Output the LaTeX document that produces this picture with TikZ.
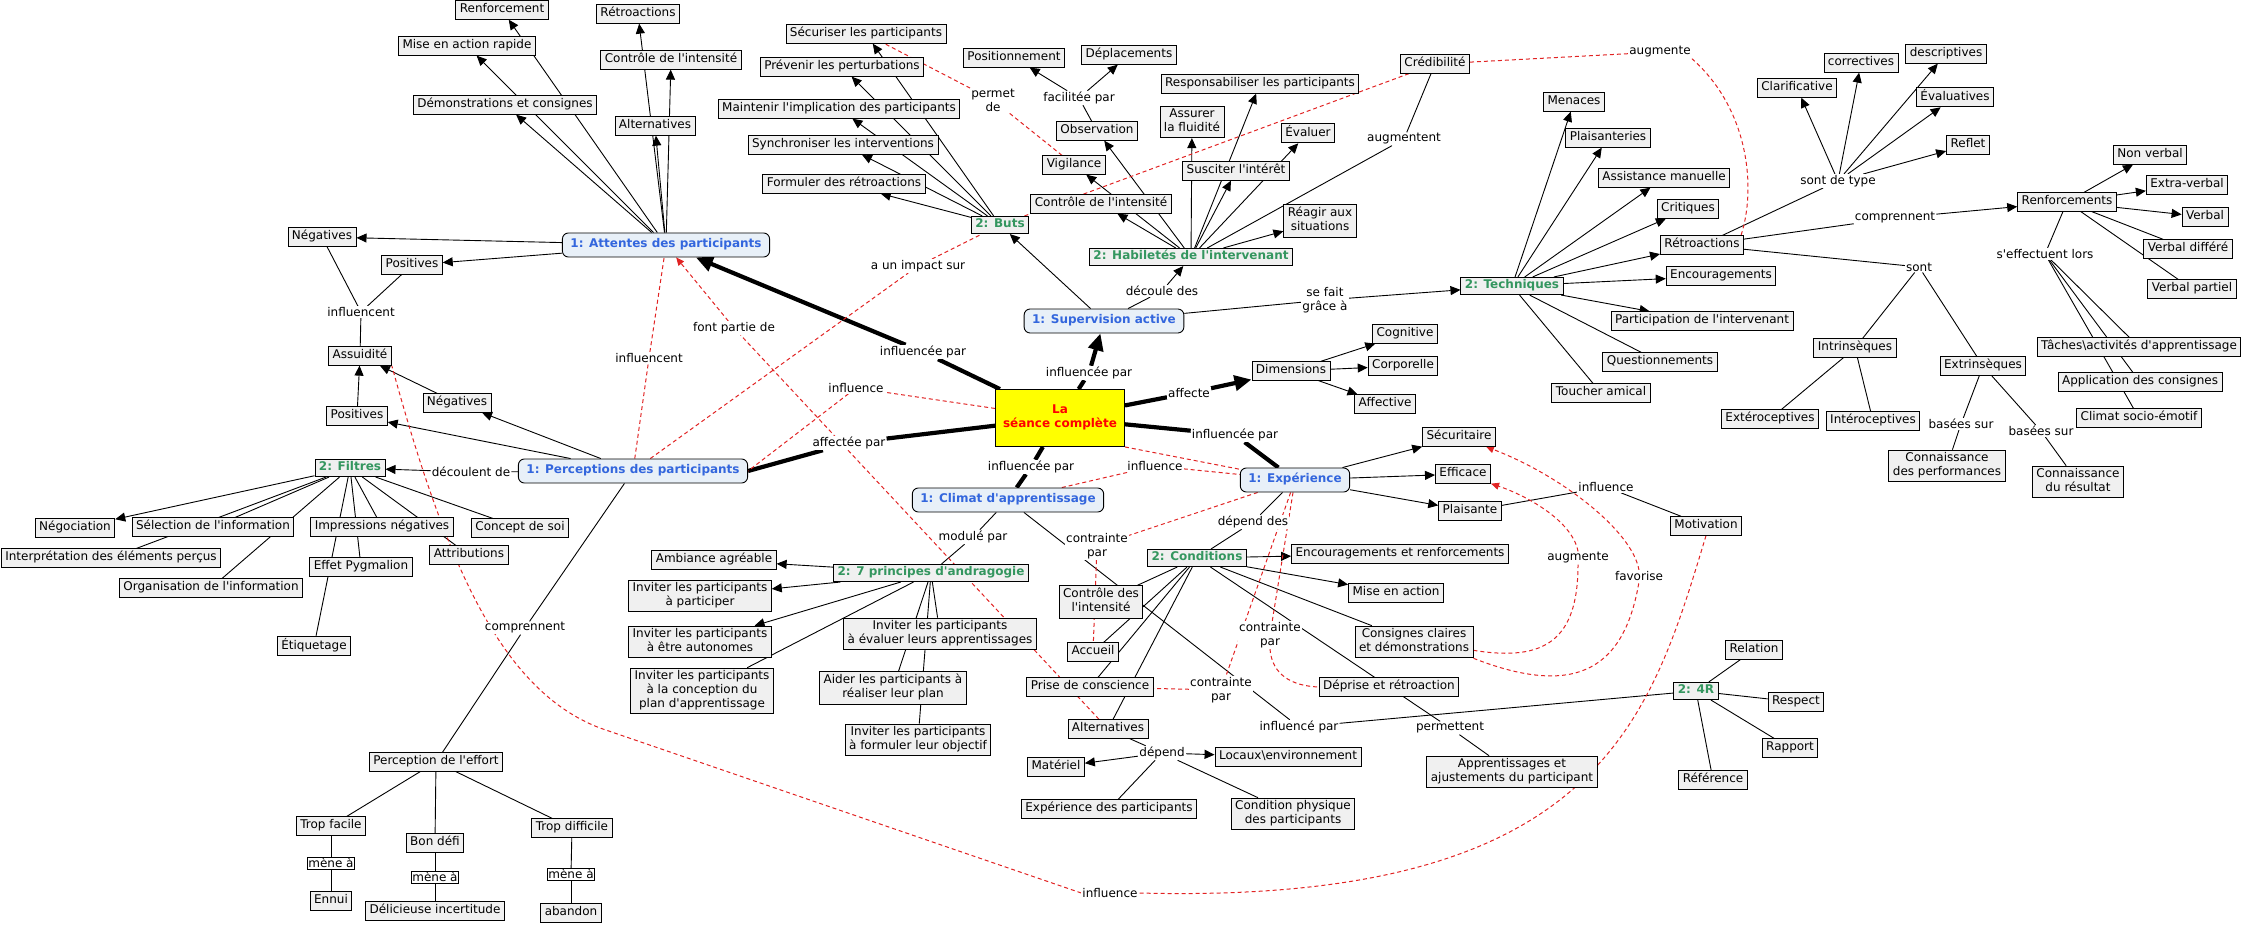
\documentclass[tikz,border=0pt]{standalone}
\usepackage{fontspec}
\newfontfamily\dvs{DejaVu Sans}
\usetikzlibrary{arrows.meta,backgrounds}
\definecolor{cfill}{RGB}{240,240,240}
\definecolor{bfill}{RGB}{232,240,248}
\definecolor{bluet}{RGB}{51,102,221}
\definecolor{greent}{RGB}{52,150,95}
\definecolor{redl}{RGB}{225,35,35}
\definecolor{yel}{RGB}{255,255,0}
\tikzset{
 every node/.style={font=\dvs\fontsize{12}{14}\selectfont},
 cpt/.style={draw, line width=0.9pt, fill=cfill, inner xsep=4pt, inner ysep=2.2pt, align=center, execute at begin node=\strut, execute at end node=\strut},
 lvone/.style={cpt, rounded corners=6pt, fill=bfill, text=bluet, font=\dvs\bfseries\fontsize{12}{14}\selectfont, inner xsep=8pt, inner ysep=5pt},
 lvtwo/.style={cpt, text=greent, font=\dvs\bfseries\fontsize{12}{14}\selectfont, inner ysep=1.6pt},
 seancest/.style={cpt, fill=yel, text=red, font=\dvs\bfseries\fontsize{12}{14}\selectfont, minimum width=129pt, minimum height=57pt},
 lbl/.style={fill=white, inner sep=1pt, align=center},
 mene/.style={draw, line width=0.6pt, fill=white, inner sep=1pt},
 ln/.style={draw, line width=0.9pt},
 ar/.style={ln, -{Triangle[length=10pt,width=9pt]}},
 thk/.style={draw, line width=4.2pt},
 thkar/.style={thk, -{Triangle[length=17pt,width=15pt]}},
 cx/.style={draw=redl, line width=1pt, dash pattern=on 4pt off 3pt},
 cxar/.style={cx, -{Triangle[length=8pt,width=7pt]}},
}
\begin{document}
\begin{tikzpicture}[x=1pt,y=-1pt]
\useasboundingbox (0,0) rectangle (2247,928);
% ---------- top-left
\node[cpt] (renf) at (502,10) {Renforcement};
\node[cpt] (misear) at (467,46) {Mise en action rapide};
\node[cpt] (demo) at (505,105) {Démonstrations et consignes};
\node[cpt] (retroA) at (638,14) {Rétroactions};
\node[cpt] (ctrlA) at (671,60) {Contrôle de l'intensité};
\node[cpt] (altA) at (655,126) {Alternatives};
\node[lvone] (attentes) at (666,245) {1: Attentes des participants};
\node[cpt] (negA) at (322,237) {Négatives};
\node[cpt] (posA) at (412,265) {Positives};
\node[lbl] (lInfl1) at (361,312) {influencent};
\node[cpt] (assu) at (360,356) {Assuidité};
\node[cpt] (negB) at (457,403) {Négatives};
\node[cpt] (posB) at (357,416) {Positives};
\node[lvtwo] (filtres) at (350,468) {2: Filtres};
\node[lbl] (lDecoulent) at (471,472) {découlent de};
\node[lvone] (percep) at (633,471) {1: Perceptions des participants};
\node[cpt] (nego) at (75,528) {Négociation};
\node[cpt] (selec) at (213,527) {Sélection de l'information};
\node[cpt] (impr) at (382,527) {Impressions négatives};
\node[cpt] (concept) at (520,528) {Concept de soi};
\node[cpt] (interp) at (111,558) {Interprétation des éléments perçus};
\node[cpt] (attrib) at (469,555) {Attributions};
\node[cpt] (pygm) at (361,567) {Effet Pygmalion};
\node[cpt] (organ) at (211,588) {Organisation de l'information};
\node[cpt] (etiq) at (314,646) {Étiquetage};
\node[lbl] (lComp1) at (525,628) {comprennent};
\node[cpt] (peff) at (436,762) {Perception de l'effort};
\node[cpt] (tfac) at (331,826) {Trop facile};
\node[cpt] (bdefi) at (435,843) {Bon défi};
\node[cpt] (tdif) at (572,828) {Trop difficile};
\node[mene] (mene1) at (331,863) {mène à};
\node[cpt] (ennui) at (331,901) {Ennui};
\node[mene] (mene2) at (435,877) {mène à};
\node[cpt] (delic) at (435,911) {Délicieuse incertitude};
\node[mene] (mene3) at (571,874) {mène à};
\node[cpt] (aband) at (571,913) {abandon};
% ---------- Buts
\node[cpt] (secur) at (866,34) {Sécuriser les participants};
\node[cpt] (preven) at (842,67) {Prévenir les perturbations};
\node[cpt] (maint) at (839,109) {Maintenir l'implication des participants};
\node[cpt] (synch) at (843,145) {Synchroniser les interventions};
\node[cpt] (formu) at (844,184) {Formuler des rétroactions};
\node[lvtwo] (buts) at (1000,225) {2: Buts};
\node[lbl] (lPermet) at (993,100) {permet\\de};
\node[cpt] (posit) at (1014,58) {Positionnement};
\node[cpt] (depl) at (1129,55) {Déplacements};
\node[lbl] (lFacil) at (1079,98) {facilitée par};
\node[cpt] (obs) at (1097,131) {Observation};
\node[cpt] (vigil) at (1074,165) {Vigilance};
\node[cpt] (ctrlB) at (1101,204) {Contrôle de l'intensité};
\node[lbl] (lImpact) at (918,266) {a un impact sur};
\node[lvone] (superv) at (1104,321) {1: Supervision active};
% ---------- Habiletes
\node[cpt] (credib) at (1435,64) {Crédibilité};
\node[lbl] (lAugA) at (1660,52) {augmente};
\node[cpt] (respo) at (1260,84) {Responsabiliser les participants};
\node[cpt] (assur) at (1192,122) {Assurer\\la fluidité};
\node[cpt] (evaluer) at (1308,133) {Évaluer};
\node[cpt] (suscit) at (1236,171) {Susciter l'intérêt};
\node[lbl] (lAugm) at (1404,139) {augmentent};
\node[cpt] (reagir) at (1320,221) {Réagir aux\\situations};
\node[lvtwo] (habil) at (1191,257) {2: Habiletés de l'intervenant};
\node[lbl] (lDecDes) at (1162,291) {découle des};
\node[lbl] (lSeFait) at (1325,300) {se fait\\grâce à};
% ---------- Techniques
\node[lvtwo] (techn) at (1512,286) {2: Techniques};
\node[cpt] (menaces) at (1574,102) {Menaces};
\node[cpt] (plais) at (1608,138) {Plaisanteries};
\node[cpt] (assist) at (1664,178) {Assistance manuelle};
\node[cpt] (critiq) at (1688,209) {Critiques};
\node[cpt] (retroB) at (1702,245) {Rétroactions};
\node[cpt] (encour) at (1721,276) {Encouragements};
\node[cpt] (partic) at (1702,321) {Participation de l'intervenant};
\node[cpt] (toucher) at (1601,393) {Toucher amical};
\node[cpt] (questi) at (1660,362) {Questionnements};
% ---------- Retroactions cluster
\node[cpt] (clarif) at (1797,88) {Clarificative};
\node[cpt] (correct) at (1861,63) {correctives};
\node[cpt] (descr) at (1946,54) {descriptives};
\node[cpt] (evalua) at (1955,97) {Évaluatives};
\node[cpt] (reflet) at (1968,145) {Reflet};
\node[lbl] (lSDT) at (1838,181) {sont de type};
\node[lbl] (lCompB) at (1895,218) {comprennent};
\node[cpt] (renfs) at (2067,202) {Renforcements};
\node[cpt] (nonverb) at (2150,155) {Non verbal};
\node[cpt] (extrav) at (2187,185) {Extra-verbal};
\node[cpt] (verbal) at (2205,217) {Verbal};
\node[cpt] (verbdiff) at (2188,249) {Verbal différé};
\node[cpt] (verbpart) at (2192,289) {Verbal partiel};
\node[lbl] (lSeff) at (2045,254) {s'effectuent lors};
\node[lbl] (lSont) at (1919,267) {sont};
\node[cpt] (intrin) at (1855,348) {Intrinsèques};
\node[cpt] (extrin) at (1983,366) {Extrinsèques};
\node[cpt] (taches) at (2139,347) {Tâches\textbackslash activités d'apprentissage};
\node[cpt] (applic) at (2140,382) {Application des consignes};
\node[cpt] (climse) at (2139,418) {Climat socio-émotif};
\node[cpt] (extero) at (1770,419) {Extéroceptives};
\node[cpt] (intero) at (1873,421) {Intéroceptives};
\node[lbl] (lBSA) at (1961,424) {basées sur};
\node[lbl] (lBSB) at (2041,431) {basées sur};
\node[cpt] (connperf) at (1947,466) {Connaissance\\des performances};
\node[cpt] (connres) at (2078,482) {Connaissance\\du résultat};
% ---------- centre
\node[seancest] (seance) at (1060,418) {La\\séance complète};
\node[lbl] (lFont) at (734,328) {font partie de};
\node[lbl] (lInfl2) at (649,358) {influencent};
\node[lbl] (lIpA) at (923,352) {influencée par};
\node[lbl] (lIpS) at (1089,373) {influencée par};
\node[lbl] (lInfL) at (856,388) {influence};
\node[lbl] (lAffP) at (849,443) {affectée par};
\node[lbl] (lIpC) at (1031,467) {influencée par};
\node[lvone] (climat) at (1008,500) {1: Climat d'apprentissage};
\node[lbl] (lMod) at (973,537) {modulé par};
\node[lbl] (lCpC) at (1097,546) {contrainte\\par};
\node[cpt] (ambi) at (714,560) {Ambiance agréable};
\node[lvtwo] (princ) at (931,573) {2: 7 principes d'andragogie};
\node[cpt] (invpart) at (700,596) {Inviter les participants\\à participer};
\node[cpt] (ctrlC) at (1101,602) {Contrôle des\\l'intensité};
\node[cpt] (inveval) at (940,634) {Inviter les participants\\à évaluer leurs apprentissages};
\node[cpt] (invauto) at (700,642) {Inviter les participants\\à être autonomes};
\node[cpt] (invconc) at (702,691) {Inviter les participants\\à la conception du\\plan d'apprentissage};
\node[cpt] (aider) at (893,688) {Aider les participants à\\réaliser leur plan};
\node[cpt] (invobj) at (918,740) {Inviter les participants\\à formuler leur objectif};
\node[cpt] (accueil) at (1093,652) {Accueil};
\node[cpt] (prise) at (1090,687) {Prise de conscience};
\node[cpt] (altB) at (1108,729) {Alternatives};
\node[cpt] (materiel) at (1056,767) {Matériel};
\node[cpt] (expart) at (1109,809) {Expérience des participants};
\node[lbl] (lInfB) at (1110,893) {influence};
% ---------- right centre
\node[lbl] (lAffecte) at (1189,393) {affecte};
\node[cpt] (dims) at (1291,371) {Dimensions};
\node[cpt] (cogn) at (1405,334) {Cognitive};
\node[cpt] (corpo) at (1403,366) {Corporelle};
\node[cpt] (affec) at (1385,404) {Affective};
\node[lbl] (lIpE) at (1235,435) {influencée par};
\node[cpt] (secu) at (1459,437) {Sécuritaire};
\node[cpt] (effic) at (1463,474) {Efficace};
\node[cpt] (plaisante) at (1470,511) {Plaisante};
\node[lvone] (exper) at (1295,480) {1: Expérience};
\node[lbl] (lInfE) at (1155,466) {influence};
\node[lbl] (lDepDes) at (1253,522) {dépend des};
\node[lvtwo] (cond) at (1197,558) {2: Conditions};
\node[cpt] (encren) at (1400,554) {Encouragements et renforcements};
\node[cpt] (misea) at (1396,593) {Mise en action};
\node[lbl] (lInfP) at (1606,487) {influence};
\node[cpt] (motiv) at (1706,526) {Motivation};
\node[lbl] (lAugB) at (1578,558) {augmente};
\node[lbl] (lFav) at (1639,576) {favorise};
\node[lbl] (lCpU) at (1270,635) {contrainte\\par};
\node[lbl] (lCpL) at (1221,690) {contrainte\\par};
\node[cpt] (consig) at (1414,642) {Consignes claires\\et démonstrations};
\node[cpt] (deprise) at (1389,687) {Déprise et rétroaction};
\node[lbl] (lInfPar) at (1299,727) {influencé par};
\node[lbl] (lPerm) at (1450,728) {permettent};
\node[lbl] (lDep) at (1162,753) {dépend};
\node[cpt] (locaux) at (1288,757) {Locaux\textbackslash environnement};
\node[cpt] (condphys) at (1293,814) {Condition physique\\des participants};
\node[cpt] (appren) at (1512,772) {Apprentissages et\\ajustements du participant};
\node[lvtwo] (rfour) at (1696,691) {2: 4R};
\node[cpt] (relation) at (1754,650) {Relation};
\node[cpt] (respect) at (1796,702) {Respect};
\node[cpt] (rapport) at (1790,748) {Rapport};
\node[cpt] (refer) at (1713,780) {Référence};

\begin{pgfonlayer}{background}
% thick links from the central concept
\draw[thk] (seance) -- (lIpA); \draw[thkar] (lIpA) -- (attentes);
\draw[thk] (seance) -- (lIpS); \draw[thkar] (lIpS) -- (superv);
\draw[thk] (seance) -- (lAffecte); \draw[thkar] (lAffecte) -- (dims);
\draw[thk] (seance) -- (lIpE); \draw[thk] (lIpE) -- (exper);
\draw[thk] (seance) -- (lIpC); \draw[thk] (lIpC) -- (climat);
\draw[thk] (seance) -- (lAffP); \draw[thk] (lAffP) -- (percep.east);
% Attentes
\foreach \t in {renf,misear,demo,retroA,ctrlA,altA,negA,posA} {\draw[ar] (attentes) -- (\t);}
\draw[ln] (negA) -- (lInfl1); \draw[ln] (posA) -- (lInfl1); \draw[ln] (lInfl1) -- (assu);
% Perceptions
\draw[ar] (percep) -- (posB); \draw[ar] (percep) -- (negB);
\draw[ar] (posB) -- (assu); \draw[ar] (negB) -- (assu);
\draw[ln] (percep) -- (lDecoulent); \draw[ar] (lDecoulent) -- (filtres);
\draw[ln] (percep) -- (lComp1); \draw[ln] (lComp1) -- (peff);
\draw[ar] (filtres) -- (nego);
\foreach \t in {selec,interp,organ,impr,pygm,etiq,attrib,concept} {\draw[ln] (filtres) -- (\t);}
\foreach \t in {tfac,bdefi,tdif} {\draw[ln] (peff) -- (\t);}
\draw[ln] (tfac) -- (mene1); \draw[ln] (mene1) -- (ennui);
\draw[ln] (bdefi) -- (mene2); \draw[ln] (mene2) -- (delic);
\draw[ln] (tdif) -- (mene3); \draw[ln] (mene3) -- (aband);
% Buts / Supervision
\foreach \t in {secur,preven,maint,synch,formu} {\draw[ar] (buts) -- (\t);}
\draw[ar] (superv) -- (buts);
\draw[ln] (superv) -- (lDecDes); \draw[ar] (lDecDes) -- (habil);
\draw[ln] (superv) -- (lSeFait); \draw[ar] (lSeFait) -- (techn);
\foreach \t in {ctrlB,vigil,obs,assur,respo,suscit,evaluer,reagir} {\draw[ar] (habil) -- (\t);}
\draw[ln] (habil) -- (lAugm); \draw[ln] (lAugm) -- (credib);
\draw[ln] (obs) -- (lFacil); \draw[ar] (lFacil) -- (posit); \draw[ar] (lFacil) -- (depl);
% Techniques
\foreach \t in {menaces,plais,assist,critiq,retroB,encour,partic} {\draw[ar] (techn) -- (\t);}
\draw[ln] (techn) -- (toucher); \draw[ln] (techn) -- (questi);
\draw[ln] (retroB) -- (lSDT);
\foreach \t in {clarif,correct,descr,evalua,reflet} {\draw[ar] (lSDT) -- (\t);}
\draw[ln] (retroB) -- (lCompB); \draw[ar] (lCompB) -- (renfs);
\draw[ln] (retroB) -- (lSont); \draw[ln] (lSont) -- (intrin); \draw[ln] (lSont) -- (extrin);
\draw[ln] (intrin) -- (extero); \draw[ln] (intrin) -- (intero);
\draw[ln] (extrin) -- (lBSA); \draw[ln] (lBSA) -- (connperf);
\draw[ln] (extrin) -- (lBSB); \draw[ln] (lBSB) -- (connres);
\foreach \t in {nonverb,extrav,verbal} {\draw[ar] (renfs) -- (\t);}
\draw[ln] (renfs) -- (verbdiff); \draw[ln] (renfs) -- (verbpart);
\draw[ln] (renfs) -- (lSeff);
\foreach \t in {taches,applic,climse} {\draw[ln] (lSeff) -- (\t);}
% Dimensions, Experience, Conditions
\foreach \t in {cogn,corpo,affec} {\draw[ar] (dims) -- (\t);}
\foreach \t in {secu,effic,plaisante} {\draw[ar] (exper) -- (\t);}
\draw[ln] (exper) -- (lDepDes); \draw[ln] (lDepDes) -- (cond);
\draw[ar] (cond) -- (encren); \draw[ar] (cond) -- (misea);
\foreach \t in {ctrlC,accueil,prise,altB,consig,deprise} {\draw[ln] (cond) -- (\t);}
\draw[ln] (plaisante) -- (lInfP); \draw[ln] (lInfP) -- (motiv);
\draw[ln] (deprise) -- (lPerm); \draw[ln] (lPerm) -- (appren);
\draw[ln] (altB) -- (lDep); \draw[ar] (lDep) -- (materiel); \draw[ar] (lDep) -- (locaux);
\draw[ln] (lDep) -- (expart); \draw[ln] (lDep) -- (condphys);
\foreach \t in {relation,respect,rapport,refer} {\draw[ln] (rfour) -- (\t);}
% Climat
\draw[ln] (climat) -- (lMod); \draw[ln] (lMod) -- (princ);
\draw[ln] (climat) -- (lInfPar); \draw[ln] (lInfPar) -- (rfour);
\draw[ar] (princ) -- (ambi); \draw[ar] (princ) -- (invpart); \draw[ar] (princ) -- (invauto);
\foreach \t in {invconc,inveval,aider,invobj} {\draw[ln] (princ) -- (\t);}
% red dashed cross-links
\draw[cx] (percep) -- (lInfl2); \draw[cx] (lInfl2) -- (attentes);
\draw[cx] (altB) -- (lFont); \draw[cxar] (lFont) -- (attentes);
\draw[cx] (percep) -- (lImpact); \draw[cx] (lImpact) -- (buts);
\draw[cx] (seance) -- (lInfL); \draw[cx] (lInfL) -- (percep.east);
\draw[cx] (vigil) -- (lPermet); \draw[cx] (lPermet) -- (secur);
\draw[cx] (credib) -- (buts);
\draw[cx] (credib) -- (lAugA);
\draw[cx] (lAugA.south east) .. controls (1750,110) and (1756,190) .. ([xshift=-3pt]retroB.north east);
\draw[cx] (climat) -- (lInfE); \draw[cx] (lInfE) -- (exper);
\draw[cx] (seance.south east) -- (exper);
\draw[cx] (exper) -- (lCpC); \draw[cx] (lCpC) -- (accueil);
\draw[cx] (exper) -- (lCpU);
\draw[cx] (lCpU.south) .. controls (1272,675) and (1292,686) .. (deprise.west);
\draw[cx] (exper) -- (lCpL); \draw[cx] (lCpL) -- (prise);
\draw[cx] ([yshift=8pt]consig.south east) .. controls (1545,662) and (1578,640) .. (lAugB.south);
\draw[cxar] (lAugB.north) .. controls (1572,520) and (1525,495) .. (effic.south east);
\draw[cx] (consig.south east) .. controls (1580,700) and (1625,665) .. (lFav.south);
\draw[cxar] (lFav.north) .. controls (1632,530) and (1560,475) .. ([xshift=-10pt]secu.south east);
\draw[cx] (motiv.south) .. controls (1650,720) and (1600,905) .. (lInfB.east);
\draw[cx] (lInfB.west) -- (600,728) .. controls (500,690) and (445,560) .. (assu.south east);
\end{pgfonlayer}
\end{tikzpicture}
\end{document}
